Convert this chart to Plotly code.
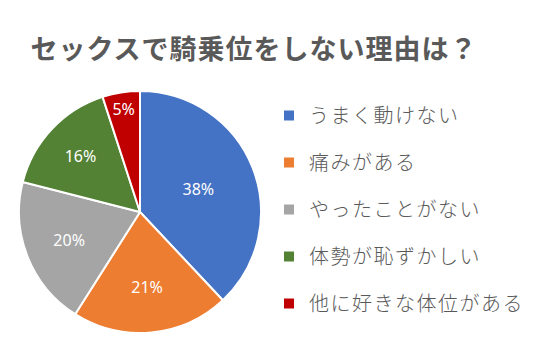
import plotly.graph_objects as go

title = "セックスで騎乗位をしない理由は？"
categories = ["うまく動けない", "痛みがある", "やったことがない", "体勢が恥ずかしい", "他に好きな体位がある"]
values = [38, 21, 20, 16, 5]
colors = ["#4472C4", "#ED7D31", "#A5A5A5", "#548235", "#C00000"]

# page body has an 8px default margin; size figure to fill the remaining window
O = 8
W, H = 540 - O, 360 - O


def px(x):
    return (x - O) / W


def py(y):
    return 1 - (y - O) / H


fig = go.Figure()
fig.add_trace(go.Pie(
    labels=categories, values=values, sort=False, direction="clockwise", rotation=0,
    marker=dict(colors=colors, line=dict(color="white", width=2)),
    texttemplate="%{value}%", textposition="inside", insidetextorientation="horizontal",
    textfont=dict(color="white", size=16, family="Noto Sans, DejaVu Sans"),
    domain=dict(x=[px(19), px(261)], y=[py(333), py(91)]),
    showlegend=False, hoverinfo="label+percent",
))
for c, col in zip(categories, colors):
    fig.add_trace(go.Scatter(
        x=[None], y=[None], mode="markers", name='<span style="letter-spacing:1.5px">' + c + "</span>",
        legendgroup=c, marker=dict(symbol="square", size=10, color=col),
    ))

fig.update_layout(
    width=W, height=H, margin=dict(l=0, r=0, t=0, b=0),
    paper_bgcolor="white", plot_bgcolor="white",
    xaxis=dict(visible=False), yaxis=dict(visible=False),
    title=dict(text='<b><span style="letter-spacing:1px">' + title + "</span></b>",
               x=px(254), xanchor="center", y=py(50), yanchor="middle",
               font=dict(family="Noto Sans CJK JP", size=27, color="#595959")),
    legend=dict(x=px(269), xanchor="left", y=py(96), yanchor="top",
                font=dict(family="Noto Sans CJK JP", size=20, color="#595959", weight=300),
                tracegroupgap=18, itemwidth=30, bgcolor="rgba(0,0,0,0)"),
)
fig.write_html("out.html")
